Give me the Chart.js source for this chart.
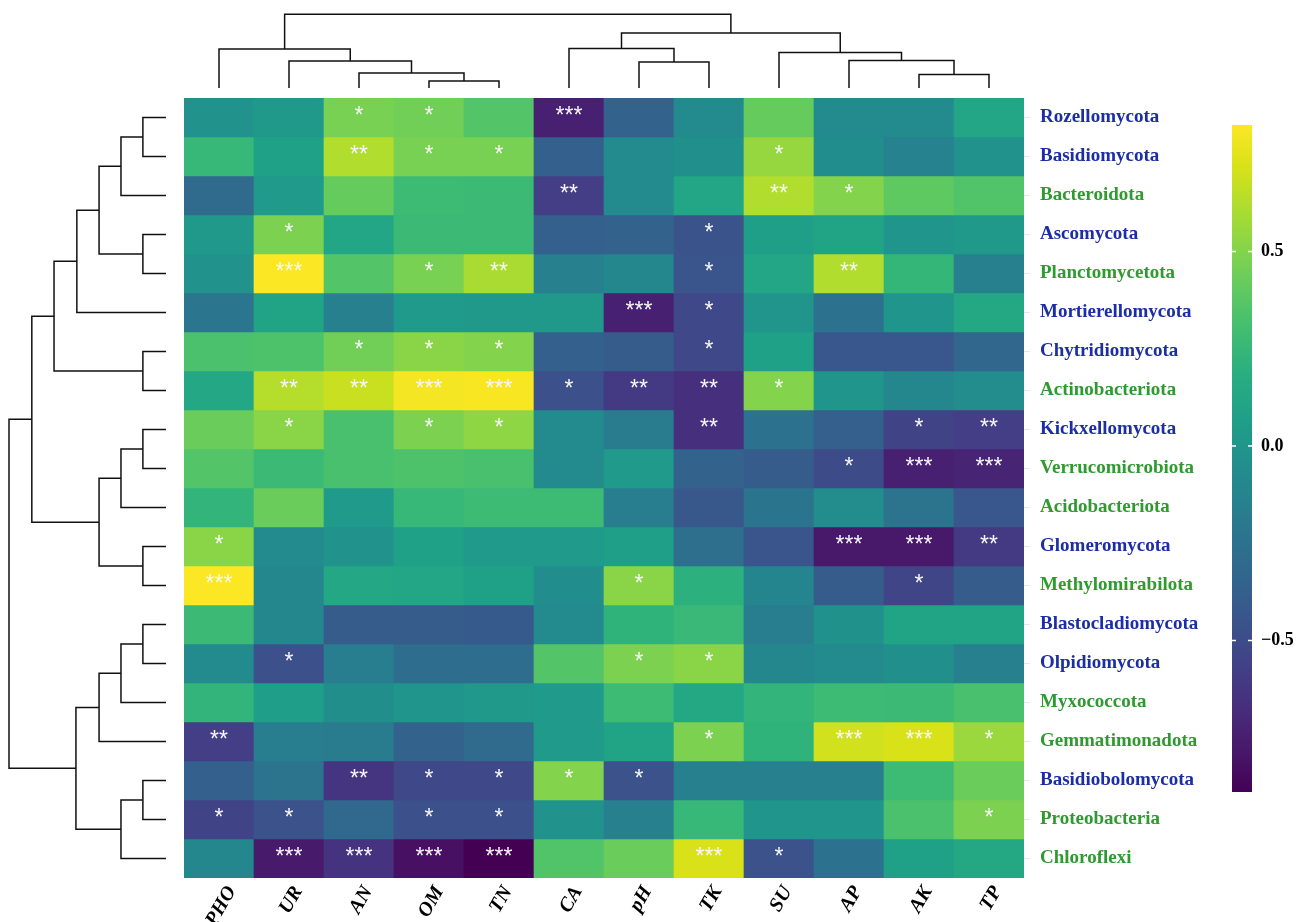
<!DOCTYPE html>
<html><head><meta charset="utf-8">
<script src="https://cdn.jsdelivr.net/npm/chart.js@4.4.1/dist/chart.umd.min.js"></script>
<style>
html,body{margin:0;padding:0;background:#fff;width:1308px;height:922px;overflow:hidden}
canvas{position:absolute}
</style></head><body>
<canvas id="heat" width="1308" height="922" style="left:0;top:0"></canvas>
<canvas id="topDen" width="840" height="88" style="left:184px;top:0"></canvas>
<canvas id="leftDen" width="166" height="780" style="left:0;top:98px"></canvas>
<canvas id="cbar" width="76" height="690" style="left:1232px;top:115px"></canvas>
<script>
// ---- data ----
const rows = ['Rozellomycota','Basidiomycota','Bacteroidota','Ascomycota','Planctomycetota','Mortierellomycota','Chytridiomycota','Actinobacteriota','Kickxellomycota','Verrucomicrobiota','Acidobacteriota','Glomeromycota','Methylomirabilota','Blastocladiomycota','Olpidiomycota','Myxococcota','Gemmatimonadota','Basidiobolomycota','Proteobacteria','Chloroflexi'];
const rowKingdom = ['F','F','B','F','B','F','F','B','F','B','B','F','B','F','F','B','B','F','B','B'];
const cols = ['PHO','UR','AN','OM','TN','CA','pH','TK','SU','AP','AK','TP'];
const corr = [
 [-0.02, 0.02, 0.47, 0.45, 0.36,-0.74,-0.36,-0.08, 0.42,-0.08,-0.08, 0.12],
 [ 0.25, 0.08, 0.62, 0.47, 0.47,-0.37,-0.08,-0.04, 0.55,-0.06,-0.14,-0.02],
 [-0.30, 0.03, 0.42, 0.28, 0.27,-0.58,-0.08, 0.12, 0.62, 0.50, 0.40, 0.35],
 [ 0.02, 0.48, 0.12, 0.27, 0.27,-0.37,-0.36,-0.45, 0.07, 0.10, 0.00, 0.02],
 [-0.02, 0.82, 0.36, 0.47, 0.60,-0.15,-0.10,-0.44, 0.12, 0.62, 0.24,-0.15],
 [-0.22, 0.10,-0.15, 0.03, 0.02, 0.02,-0.74,-0.52,-0.01,-0.25, 0.00, 0.14],
 [ 0.33, 0.34, 0.45, 0.52, 0.50,-0.37,-0.40,-0.52, 0.08,-0.43,-0.43,-0.33],
 [ 0.13, 0.63, 0.68, 0.80, 0.81,-0.47,-0.60,-0.66, 0.50, 0.00,-0.10,-0.07],
 [ 0.43, 0.52, 0.32, 0.48, 0.53,-0.08,-0.18,-0.66,-0.25,-0.38,-0.55,-0.58],
 [ 0.36, 0.27, 0.32, 0.34, 0.32,-0.08, 0.03,-0.35,-0.40,-0.50,-0.74,-0.72],
 [ 0.23, 0.43, 0.03, 0.25, 0.28, 0.28,-0.17,-0.42,-0.23,-0.07,-0.24,-0.43],
 [ 0.52,-0.08,-0.02, 0.08, 0.03, 0.03, 0.07,-0.27,-0.44,-0.78,-0.78,-0.60],
 [ 0.82,-0.10, 0.13, 0.12, 0.08,-0.06, 0.52, 0.20,-0.12,-0.40,-0.54,-0.40],
 [ 0.27,-0.10,-0.40,-0.40,-0.41,-0.08, 0.22, 0.26,-0.17,-0.03, 0.10, 0.10],
 [-0.08,-0.47,-0.17,-0.28,-0.28, 0.36, 0.48, 0.52,-0.10,-0.08,-0.04,-0.15],
 [ 0.23, 0.06,-0.05, 0.00, 0.02, 0.03, 0.28, 0.14, 0.23, 0.28, 0.27, 0.32],
 [-0.58,-0.17,-0.18,-0.35,-0.30, 0.03, 0.10, 0.48, 0.22, 0.70, 0.72, 0.56],
 [-0.37,-0.24,-0.63,-0.52,-0.52, 0.50,-0.46,-0.15,-0.15,-0.15, 0.28, 0.43],
 [-0.55,-0.46,-0.32,-0.47,-0.47,-0.02,-0.15, 0.25, 0.00, 0.00, 0.33, 0.48],
 [-0.10,-0.77,-0.64,-0.82,-0.89, 0.35, 0.43, 0.72,-0.46,-0.25, 0.08, 0.14]
];
const stars = [
 ['','','*','*','','***','','','','','',''],
 ['','','**','*','*','','','','*','','',''],
 ['','','','','','**','','','**','*','',''],
 ['','*','','','','','','*','','','',''],
 ['','***','','*','**','','','*','','**','',''],
 ['','','','','','','***','*','','','',''],
 ['','','*','*','*','','','*','','','',''],
 ['','**','**','***','***','*','**','**','*','','',''],
 ['','*','','*','*','','','**','','','*','**'],
 ['','','','','','','','','','*','***','***'],
 ['','','','','','','','','','','',''],
 ['*','','','','','','','','','***','***','**'],
 ['***','','','','','','*','','','','*',''],
 ['','','','','','','','','','','',''],
 ['','*','','','','','*','*','','','',''],
 ['','','','','','','','','','','',''],
 ['**','','','','','','','*','','***','***','*'],
 ['','','**','*','*','*','*','','','','',''],
 ['*','*','','*','*','','','','','','','*'],
 ['','***','***','***','***','','','***','*','','','']
];
// column dendrogram: [left node, right node, height]; leaves 0..11, merges numbered from 12
const colLinks = [[3,4,0.35],[10,11,0.68],[2,12,0.75],[6,7,1.30],[1,14,1.35],[9,13,1.37],[8,17,1.77],[0,16,1.95],[5,15,1.98],[20,18,2.75],[19,21,3.69]];
const colDenMax = 4.4;
// row dendrogram: leaves 0..19, merges numbered from 20
const rowLinks = [[0,1,0.77],[3,4,0.77],[6,7,0.77],[8,9,0.77],[11,12,0.77],[13,14,0.77],[17,18,0.77],
 [20,2,1.5],[23,10,1.5],[25,15,1.5],[26,19,1.5],[27,21,2.23],[28,24,2.23],[29,16,2.23],[31,5,2.97],[34,22,3.73],[33,30,3.0],[35,32,4.47],[37,36,5.23]];
const rowDenMax = 5.53;
const cbarTicks = [-0.5, 0, 0.5];
const vmin = -0.889, vmax = 0.825;

// ---- colormap ----
const viridis = ['#440154','#48186a','#472d7b','#424086','#3b528b','#33638d','#2c728e','#26828e','#21918c','#1fa088','#28ae80','#3fbc73','#5ec962','#84d44b','#addc30','#d8e219','#fde725'];
function hex2rgb(h){return [1,3,5].map(i=>parseInt(h.substr(i,2),16));}
function cmap(v){
  let t=(v-vmin)/(vmax-vmin); t=Math.max(0,Math.min(1,t));
  const n=viridis.length-1, p=t*n, i=Math.min(n-1,Math.floor(p)), f=p-i;
  const a=hex2rgb(viridis[i]), b=hex2rgb(viridis[i+1]);
  return 'rgb('+a.map((c,k)=>Math.round(c+(b[k]-c)*f)).join(',')+')';
}
const serif = '"Liberation Serif","Times New Roman",serif';
const blue = '#1c2ea6', green = '#2f9a30';

// ---- heatmap ----
const starPlugin = {id:'stars', afterDatasetsDraw(chart){
  const {ctx, scales:{x,y}} = chart;
  ctx.save(); ctx.font='23px "Liberation Sans", Arial, sans-serif'; ctx.fillStyle='#f6f6f6';
  ctx.textAlign='center'; ctx.textBaseline='middle';
  stars.forEach((r,i)=>r.forEach((s,j)=>{ if(s) ctx.fillText(s, x.getPixelForValue(j), y.getPixelForValue(i+0.5)-1); }));
  ctx.restore();
}};
const xLabelPlugin = {id:'xlabels', afterDraw(chart){
  const {ctx, scales:{x}, chartArea:a} = chart;
  const ang = 60*Math.PI/180, fs = 20, capH = fs*0.66;
  ctx.save(); ctx.font = 'italic bold '+fs+'px '+serif; ctx.fillStyle='#000';
  ctx.textAlign='center'; ctx.textBaseline='alphabetic';
  cols.forEach((c,j)=>{
    const w = ctx.measureText(c).width;
    const bh = w*Math.sin(ang) + capH*Math.cos(ang);
    const cx = x.getPixelForValue(j) + 1, cy = a.bottom + 6 + bh/2;
    ctx.save(); ctx.translate(cx, cy); ctx.rotate(-ang); ctx.fillText(c, 0, capH/2); ctx.restore();
  });
  ctx.restore();
}};
new Chart(document.getElementById('heat'), {
  type:'bar',
  data:{labels:cols, datasets:rows.map((r,i)=>({label:r, data:cols.map(()=>1), backgroundColor:corr[i].map(cmap), borderWidth:0, barPercentage:1, categoryPercentage:1}))},
  options:{responsive:false, animation:false, events:[],
    layout:{padding:{left:184, top:98, right:0, bottom:0}},
    plugins:{legend:{display:false}, tooltip:{enabled:false}},
    scales:{
      x:{stacked:true, grid:{display:false, drawTicks:false}, border:{display:false},
         ticks:{display:false},
         afterFit(s){ s.height=44; s.paddingLeft=0; s.paddingRight=0; }},
      y:{stacked:true, position:'right', min:0, max:20, reverse:true,
         grid:{display:true, drawOnChartArea:false, tickLength:6, color:'#e6e6e6'}, border:{display:false},
         ticks:{autoSkip:false, padding:10, font:{family:serif, size:19, weight:'bold'},
                color:(c)=> rowKingdom[c.index]==='F' ? blue : green,
                callback:(v,i)=> rows[i]},
         afterBuildTicks(s){ s.ticks = rows.map((r,i)=>({value:i+0.5})); },
         afterFit(s){ s.width=284; }}
    }},
  plugins:[starPlugin, xLabelPlugin]
});

// ---- dendrograms ----
function denSegments(links, nLeaves, horizontal){
  const pos = [], hgt = [];
  for(let i=0;i<nLeaves;i++){pos.push(i); hgt.push(0);}
  const segs = [];
  links.forEach(([a,b,h])=>{
    const pts = [[pos[a],hgt[a]],[pos[a],h],[pos[b],h],[pos[b],hgt[b]]];
    segs.push(pts.map(([p,q])=> horizontal ? {x:p,y:q} : {x:q,y:p}));
    pos.push((pos[a]+pos[b])/2); hgt.push(h);
  });
  return segs;
}
function denChart(id, segs, xs, ys){
  new Chart(document.getElementById(id), {
    type:'scatter',
    data:{datasets:segs.map(s=>({data:s, showLine:true, borderColor:'#111', borderWidth:1.5, pointRadius:0, tension:0, clip:false}))},
    options:{responsive:false, animation:false, events:[], layout:{padding:0},
      plugins:{legend:{display:false}, tooltip:{enabled:false}},
      scales:{x:Object.assign({display:false, type:'linear'}, xs), y:Object.assign({display:false, type:'linear'}, ys)}}
  });
}
denChart('topDen', denSegments(colLinks, cols.length, true), {min:-0.5, max:cols.length-0.5}, {min:0, max:colDenMax});
denChart('leftDen', denSegments(rowLinks, rows.length, false), {min:0, max:rowDenMax, reverse:true}, {min:-0.5, max:rows.length-0.5, reverse:true});

// ---- colorbar ----
const cbarTickPlugin = {id:'cbarTicks', afterDraw(chart){
  const {ctx, chartArea:a, scales:{y}} = chart;
  ctx.save(); ctx.strokeStyle='#fff'; ctx.lineWidth=1.5;
  cbarTicks.forEach(v=>{ const py=y.getPixelForValue(v);
    ctx.beginPath(); ctx.moveTo(a.left,py); ctx.lineTo(a.left+4,py); ctx.moveTo(a.right-4,py); ctx.lineTo(a.right,py); ctx.stroke(); });
  ctx.restore();
}};
new Chart(document.getElementById('cbar'), {
  type:'bar',
  data:{labels:[''], datasets:[{data:[[vmin,vmax]], borderWidth:0, barPercentage:1, categoryPercentage:1,
    backgroundColor:(c)=>{ const a=c.chart.chartArea; if(!a) return null;
      const g=c.chart.ctx.createLinearGradient(0,a.bottom,0,a.top);
      viridis.forEach((col,k)=>g.addColorStop(k/(viridis.length-1), col)); return g; }}]},
  options:{responsive:false, animation:false, events:[],
    layout:{padding:{top:10, bottom:13, left:0, right:0}},
    plugins:{legend:{display:false}, tooltip:{enabled:false}},
    scales:{
      x:{display:false},
      y:{position:'right', min:vmin, max:vmax, grid:{display:false, drawTicks:false}, border:{display:false},
         ticks:{padding:9, color:'#000', font:{family:serif, size:18, weight:'bold'},
                callback:(v)=> v<0 ? '\u2212'+Math.abs(v).toFixed(1) : v.toFixed(1)},
         afterBuildTicks(s){ s.ticks = cbarTicks.map(v=>({value:v})); },
         afterFit(s){ s.width=56; s.paddingTop=0; s.paddingBottom=0; }}
    }},
  plugins:[cbarTickPlugin]
});
</script>
</body></html>
